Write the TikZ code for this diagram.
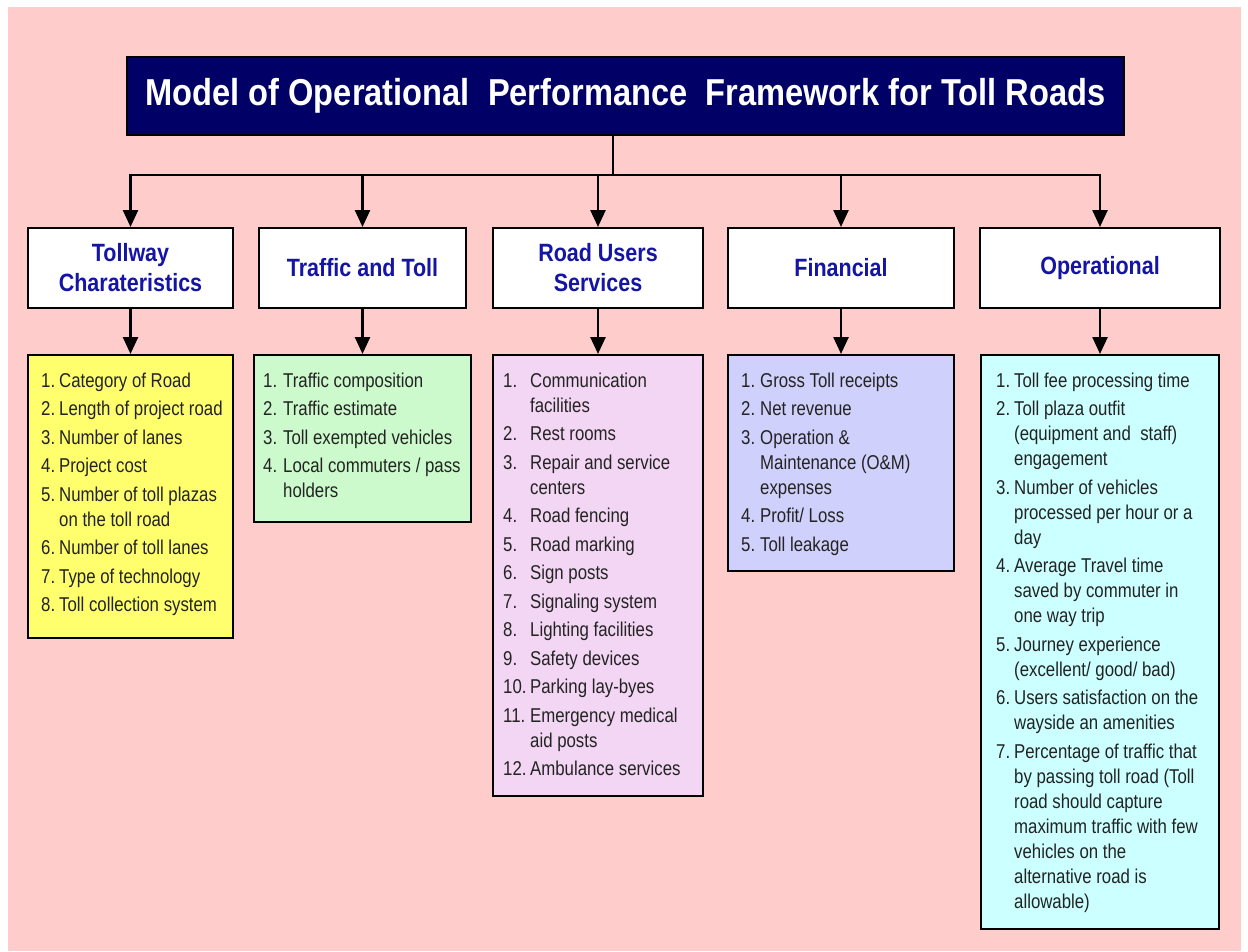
\documentclass[tikz,border=0pt]{standalone}
\usepackage{fontspec}
\usetikzlibrary{arrows.meta}
\newfontfamily\lfont[FakeStretch=0.84]{Liberation Sans}
\newfontfamily\hfont[FakeStretch=0.86]{Liberation Sans}
\newfontfamily\tfont[FakeStretch=0.87]{Liberation Sans}
\definecolor{bgpink}{RGB}{255,204,204}
\definecolor{navy}{RGB}{0,0,102}
\definecolor{hblue}{RGB}{20,20,165}
\definecolor{txt}{RGB}{35,35,35}
\definecolor{cyellow}{RGB}{255,255,110}
\definecolor{cgreen}{RGB}{204,250,204}
\definecolor{cpink}{RGB}{243,214,243}
\definecolor{clav}{RGB}{208,208,252}
\definecolor{ccyan}{RGB}{204,255,255}
\begin{document}
\begin{tikzpicture}[x=1pt,y=-1pt,
  titlebox/.style={draw=black,line width=2pt,fill=navy,inner sep=0pt,text=white,
    font=\tfont\bfseries\fontsize{37.5}{40}\selectfont},
  headbox/.style={draw=black,line width=2pt,fill=white,inner sep=0pt,align=center,
    text=hblue,font=\hfont\bfseries\fontsize{25}{30}\selectfont},
  listbox/.style={draw=black,line width=2pt,inner sep=0pt},
  listtext/.style={anchor=north west,inner sep=0pt,text=txt,
    font=\lfont\fontsize{20}{25}\selectfont},
  conn/.style={line width=2.5pt,draw=black},
  arr/.style={line width=2.5pt,draw=black,-{Triangle[length=17pt,width=15pt]}}]
\useasboundingbox (0,0) rectangle (1248,951);
\fill[white] (0,0) rectangle (1248,951);
\fill[bgpink] (8,7) rectangle (1241,951);

% title
\node[titlebox,minimum width=997,minimum height=78] (title) at (625.5,96)
  {Model of Operational\ \ Performance\ \ Framework for Toll Roads};

% headers
\node[headbox,minimum width=205,minimum height=80] (h1) at (130.5,268) {Tollway\\Charateristics};
\node[headbox,minimum width=207,minimum height=80] (h2) at (362.5,268) {Traffic and Toll};
\node[headbox,minimum width=210,minimum height=80] (h3) at (598,268) {Road Users\\Services};
\node[headbox,minimum width=226,minimum height=80] (h4) at (841,268) {Financial};
\node[headbox,minimum width=240,minimum height=80] (h5) at (1100,268) {Operational};

% list boxes
\node[listbox,fill=cyellow,minimum width=205,minimum height=283] (l1) at (130.5,496.5) {};
\node[listbox,fill=cgreen,minimum width=217,minimum height=167] (l2) at (362.5,438.5) {};
\node[listbox,fill=cpink,minimum width=210,minimum height=441] (l3) at (598,575.5) {};
\node[listbox,fill=clav,minimum width=226,minimum height=216] (l4) at (841,463) {};
\node[listbox,fill=ccyan,minimum width=238,minimum height=574] (l5) at (1100,642) {};

% list texts
\node[listtext] (t1) at (41,369.5) {\begin{tabular}{@{}p{18pt}@{}l@{}}
1. & Category of Road\\[3.5pt]
2. & Length of project road\\[3.5pt]
3. & Number of lanes\\[3.5pt]
4. & Project cost\\[3.5pt]
5. & Number of toll plazas\\
   & on the toll road\\[3.5pt]
6. & Number of toll lanes\\[3.5pt]
7. & Type of technology\\[3.5pt]
8. & Toll collection system
\end{tabular}};

\node[listtext] (t2) at (263,369.5) {\begin{tabular}{@{}p{20pt}@{}l@{}}
1. & Traffic composition\\[3.5pt]
2. & Traffic estimate\\[3.5pt]
3. & Toll exempted vehicles\\[3.5pt]
4. & Local commuters / pass\\
   & holders
\end{tabular}};

\node[listtext] (t3) at (503,369.5) {\begin{tabular}{@{}p{27pt}@{}l@{}}
1. & Communication\\
   & facilities\\[3.5pt]
2. & Rest rooms\\[3.5pt]
3. & Repair and service\\
   & centers\\[3.5pt]
4. & Road fencing\\[3.5pt]
5. & Road marking\\[3.5pt]
6. & Sign posts\\[3.5pt]
7. & Signaling system\\[3.5pt]
8. & Lighting facilities\\[3.5pt]
9. & Safety devices\\[3.5pt]
10. & Parking lay-byes\\[3.5pt]
11. & Emergency medical\\
    & aid posts\\[3.5pt]
12. & Ambulance services
\end{tabular}};

\node[listtext] (t4) at (741,369.5) {\begin{tabular}{@{}p{19pt}@{}l@{}}
1. & Gross Toll receipts\\[3.5pt]
2. & Net revenue\\[3.5pt]
3. & Operation \&\\
   & Maintenance (O\&M)\\
   & expenses\\[3.5pt]
4. & Profit/ Loss\\[3.5pt]
5. & Toll leakage
\end{tabular}};

\node[listtext] (t5) at (996,369.5) {\begin{tabular}{@{}p{18pt}@{}l@{}}
1. & Toll fee processing time\\[3.5pt]
2. & Toll plaza outfit\\
   & (equipment and\ \ staff)\\
   & engagement\\[3.5pt]
3. & Number of vehicles\\
   & processed per hour or a\\
   & day\\[3.5pt]
4. & Average Travel time\\
   & saved by commuter in\\
   & one way trip\\[3.5pt]
5. & Journey experience\\
   & (excellent/ good/ bad)\\[3.5pt]
6. & Users satisfaction on the\\
   & wayside an amenities\\[3.5pt]
7. & Percentage of traffic that\\
   & by passing toll road (Toll\\
   & road should capture\\
   & maximum traffic with few\\
   & vehicles on the\\
   & alternative road is\\
   & allowable)
\end{tabular}};

% connectors
\coordinate (bus) at (613,175);
\draw[conn] (bus |- title.south) -- (bus);
\foreach \h in {h1,h2,h3,h4,h5} \draw[arr] (bus) -| (\h.north);
\draw[arr] (h1.south) -- (l1.north);
\draw[arr] (h2.south) -- (l2.north);
\draw[arr] (h3.south) -- (l3.north);
\draw[arr] (h4.south) -- (l4.north);
\draw[arr] (h5.south) -- (l5.north);
\end{tikzpicture}
\end{document}
